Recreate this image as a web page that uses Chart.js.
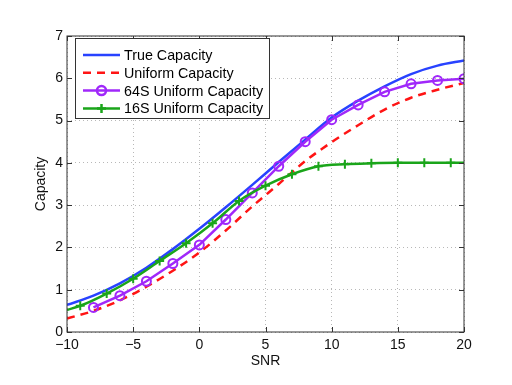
<!DOCTYPE html>
<html>
<head>
<meta charset="utf-8">
<script src="https://cdn.jsdelivr.net/npm/chart.js@4/dist/chart.umd.min.js"></script>
<style>
  body { margin: 0; background: #fff; }
  canvas { display: block; }
</style>
</head>
<body>
<canvas id="myChart" width="512" height="385"></canvas>
<script>
// values
const snrEven = [-10, -8, -6, -4, -2, 0, 2, 4, 6, 8, 10, 12, 14, 16, 18, 20];
const trueCap = [0.64, 0.86, 1.15, 1.52, 1.96, 2.44, 2.95, 3.48, 4.02, 4.55, 5.07, 5.47, 5.81, 6.10, 6.30, 6.42];
const uniformCap = [0.32, 0.50, 0.75, 1.07, 1.45, 1.88, 2.40, 2.97, 3.50, 4.04, 4.49, 4.89, 5.26, 5.54, 5.73, 5.89];

const snr64 = [-8, -6, -4, -2, 0, 2, 4, 6, 8, 10, 12, 14, 16, 18, 20];
const cap64 = [0.58, 0.86, 1.20, 1.62, 2.06, 2.66, 3.29, 3.92, 4.50, 5.02, 5.37, 5.68, 5.87, 5.95, 5.99];

const snr16 = [-10, -9, -7, -5, -3, -1, 1, 3, 5, 7, 9, 11, 13, 15, 17, 19, 20];
const cap16 = [0.52, 0.62, 0.91, 1.26, 1.68, 2.10, 2.57, 3.10, 3.46, 3.73, 3.92, 3.97, 3.99, 4.00, 4.00, 4.00, 4.00];

const xTicks = [-10, -5, 0, 5, 10, 15, 20];
const yTicks = [0, 1, 2, 3, 4, 5, 6, 7];

const FONT = "'Liberation Sans', Arial, sans-serif";
const blue = 'rgb(40,66,255)';
const red = 'rgb(255,20,20)';
const purple = 'rgb(160,40,250)';
const green = 'rgb(26,165,26)';

function pts(xs, ys) {
  return xs.map((v, i) => ({ x: v, y: ys[i] }));
}

// box round the plot, inward ticks and the legend
const matlabFrame = {
  id: 'matlabFrame',
  afterDatasetsDraw(chart) {
    const { ctx, chartArea: a, scales } = chart;
    ctx.save();
    ctx.strokeStyle = '#333';
    ctx.lineWidth = 1;
    ctx.strokeRect(a.left, a.top, a.right - a.left, a.bottom - a.top);
    ctx.beginPath();
    xTicks.forEach(t => {
      const px = Math.round(scales.x.getPixelForValue(t)) + 0.5;
      ctx.moveTo(px, a.bottom); ctx.lineTo(px, a.bottom - 5);
      ctx.moveTo(px, a.top); ctx.lineTo(px, a.top + 5);
    });
    yTicks.forEach(t => {
      const py = Math.round(scales.y.getPixelForValue(t)) + 0.5;
      ctx.moveTo(a.left, py); ctx.lineTo(a.left + 5, py);
      ctx.moveTo(a.right, py); ctx.lineTo(a.right - 5, py);
    });
    ctx.stroke();

    // legend
    const lx = a.left + 8, ly = a.top + 2;
    ctx.fillStyle = '#fff';
    ctx.fillRect(lx, ly, 194, 80);
    ctx.strokeStyle = '#333';
    ctx.strokeRect(lx + 0.5, ly + 0.5, 194, 80);
    ctx.font = '14.3px ' + FONT;
    ctx.textBaseline = 'middle';
    ctx.textAlign = 'left';
    chart.data.datasets.forEach((ds, i) => {
      const y = ly + 17 + i * 17.8;
      const x0 = lx + 8, x1 = lx + 45;
      ctx.save();
      ctx.strokeStyle = ds.borderColor;
      ctx.lineWidth = 2.5;
      ctx.setLineDash(ds.borderDash || []);
      ctx.beginPath();
      ctx.moveTo(x0, y); ctx.lineTo(x1, y);
      ctx.stroke();
      ctx.setLineDash([]);
      const mx = (x0 + x1) / 2;
      if (ds.legendMarker === 'circle') {
        ctx.beginPath();
        ctx.arc(mx, y, 4.5, 0, Math.PI * 2);
        ctx.stroke();
      } else if (ds.legendMarker === 'cross') {
        ctx.beginPath();
        ctx.moveTo(mx, y - 4.5); ctx.lineTo(mx, y + 4.5);
        ctx.moveTo(mx - 4.5, y); ctx.lineTo(mx + 4.5, y);
        ctx.stroke();
      }
      ctx.restore();
      ctx.fillStyle = '#000';
      ctx.fillText(ds.label, lx + 49, y + 1);
    });
    ctx.restore();
  }
};

const ctx = document.getElementById('myChart');

new Chart(ctx, {
  type: 'line',
  data: {
    datasets: [
      {
        label: 'True Capacity',
        data: pts(snrEven, trueCap),
        borderColor: blue,
        borderWidth: 2.5,
        pointRadius: 0,
        cubicInterpolationMode: 'monotone',
        order: 4
      },
      {
        label: 'Uniform Capacity',
        data: pts(snrEven, uniformCap),
        borderColor: red,
        borderWidth: 2.5,
        borderDash: [8, 6],
        pointRadius: 0,
        cubicInterpolationMode: 'monotone',
        order: 3
      },
      {
        label: '64S Uniform Capacity',
        data: pts(snr64, cap64),
        borderColor: purple,
        borderWidth: 2.5,
        pointStyle: 'circle',
        pointRadius: 4.5,
        pointBorderWidth: 2,
        pointBorderColor: purple,
        pointBackgroundColor: 'rgba(0,0,0,0)',
        legendMarker: 'circle',
        order: 2
      },
      {
        label: '16S Uniform Capacity',
        data: pts(snr16, cap16),
        borderColor: green,
        borderWidth: 2.5,
        pointStyle: 'cross',
        pointRadius: c => (snr16[c.dataIndex] % 2 !== 0 ? 4.5 : 0),
        pointBorderWidth: 2,
        pointBorderColor: green,
        cubicInterpolationMode: 'monotone',
        legendMarker: 'cross',
        order: 1
      }
    ]
  },
  options: {
    responsive: false,
    animation: false,
    layout: { padding: { left: 0, right: 48, top: 36, bottom: 0 } },
    plugins: {
      legend: { display: false },
      tooltip: { enabled: false }
    },
    scales: {
      x: {
        type: 'linear',
        min: -10,
        max: 20,
        afterFit: s => { s.height = 53; },
        afterBuildTicks: s => { s.ticks = xTicks.map(v => ({ value: v })); },
        ticks: {
          padding: 5,
          color: '#111',
          font: { family: FONT, size: 14 },
          maxRotation: 0,
          callback: v => String(v).replace('-', '\u2212')
        },
        grid: { color: '#b8b8b8', lineWidth: 1, drawTicks: false },
        border: { display: false, dash: [1, 3] },
        title: {
          display: true,
          text: 'SNR',
          color: '#111',
          font: { family: FONT, size: 14 },
          padding: { top: 0, bottom: 15 }
        }
      },
      y: {
        min: 0,
        max: 7,
        afterFit: s => { s.width = 67; },
        afterBuildTicks: s => { s.ticks = yTicks.map(v => ({ value: v })); },
        ticks: {
          padding: 4,
          color: '#111',
          font: { family: FONT, size: 14 }
        },
        grid: { color: '#b8b8b8', lineWidth: 1, drawTicks: false },
        border: { display: false, dash: [1, 3] },
        title: {
          display: true,
          text: 'Capacity',
          color: '#111',
          font: { family: FONT, size: 14 },
          padding: { top: 33, bottom: 0 }
        }
      }
    }
  },
  plugins: [matlabFrame]
});
</script>
</body>
</html>
